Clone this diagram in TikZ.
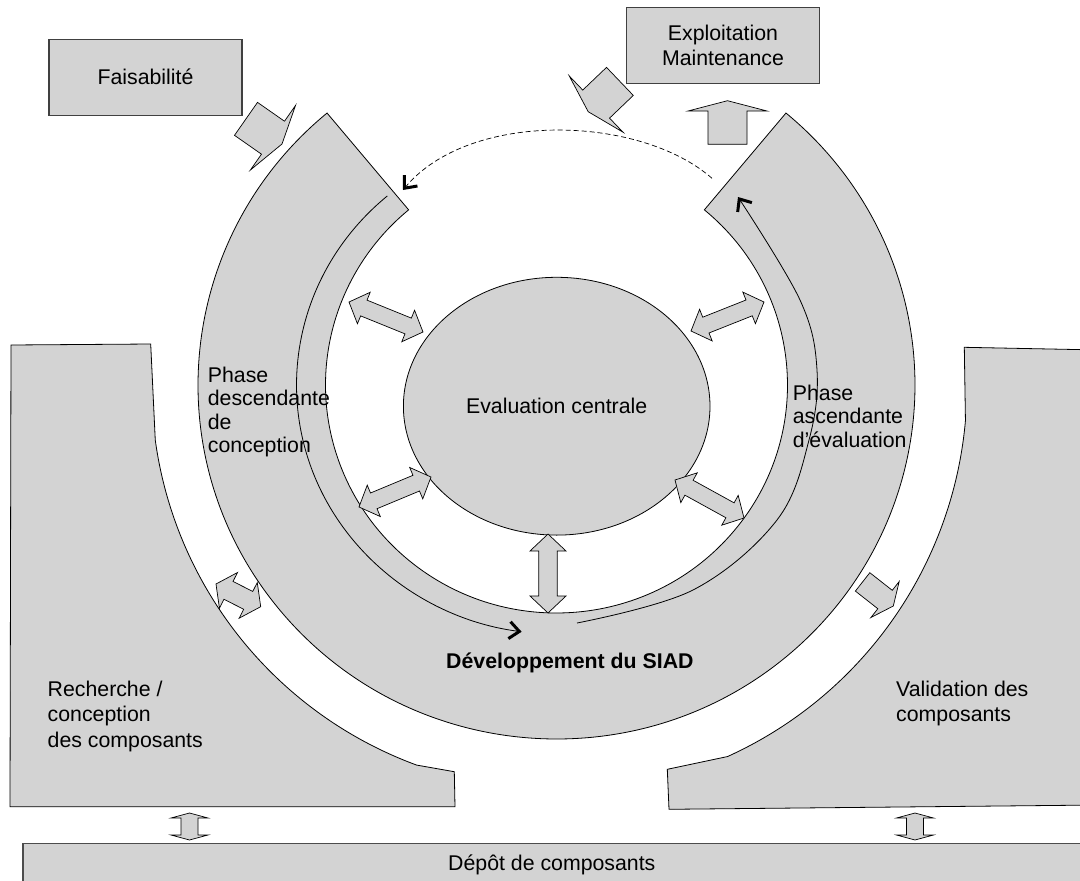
\documentclass[tikz,border=0pt]{standalone}
\usepackage{fontspec}
\setmainfont{Liberation Sans}
\usetikzlibrary{calc,shapes.geometric,arrows.meta}
\definecolor{shade}{RGB}{211,211,211}
% double block arrow: #1,#2 tips, #3 head length, #4 half head width, #5 half body width
\newcommand{\dblarr}[5]{%
 \draw[blockarrow] (#1)
  -- ($(#1)!#3!(#2)!#4!90:(#2)$)
  -- ($(#1)!#3!(#2)!#5!90:(#2)$)
  -- ($(#2)!#3!(#1)!#5!-90:(#1)$)
  -- ($(#2)!#3!(#1)!#4!-90:(#1)$)
  -- (#2)
  -- ($(#2)!#3!(#1)!#4!90:(#1)$)
  -- ($(#2)!#3!(#1)!#5!90:(#1)$)
  -- ($(#1)!#3!(#2)!#5!-90:(#2)$)
  -- ($(#1)!#3!(#2)!#4!-90:(#2)$)
  -- cycle;}
% single block arrow: #1 back middle, #2 tip
\newcommand{\sglarr}[5]{%
 \draw[blockarrow] ($(#1)!#5!90:(#2)$)
  -- ($(#2)!#3!(#1)!#5!-90:(#1)$)
  -- ($(#2)!#3!(#1)!#4!-90:(#1)$)
  -- (#2)
  -- ($(#2)!#3!(#1)!#4!90:(#1)$)
  -- ($(#2)!#3!(#1)!#5!90:(#1)$)
  -- ($(#1)!#5!-90:(#2)$)
  -- cycle;}
\begin{document}
\begin{tikzpicture}[x=1pt,y=-1pt,
  shapefill/.style={fill=shade,draw=black,line width=0.8pt},
  boxnode/.style={draw=black!75,fill=shade,line width=1.3pt,minimum width=193pt,
     minimum height=76pt,inner sep=0pt,align=center,font=\fontsize{21.3}{25.7}\selectfont},
  lbl/.style={inner sep=0pt,align=left,font=\fontsize{21.3}{25.7}\selectfont},
  phaselbl/.style={inner sep=0pt,align=left,font=\fontsize{21.3}{23.5}\selectfont},
  blockarrow/.style={fill=shade,draw=black,line width=0.7pt,line join=miter},
  guide/.style={draw=black,line width=0.8pt},
  chev/.style={-{Straight Barb[length=10pt,width=17pt,line width=3pt]}}
]
\useasboundingbox (0,0) rectangle (1080,881);
\clip (0,0) rectangle (1080,881);

% centres
\coordinate (rc) at (556.5,385);
\coordinate (pc) at (559,385);

% bottom bar
\draw[fill=shade,draw=black!70,line width=1.3pt] (23,843.3) rectangle (1100,900);
\node[lbl,anchor=base west] (depot) at (448,870) {Dépôt de composants};

% left panel
\draw[shapefill] (11,345) -- (150.7,344) -- ($(rc)+(172.2:405)$)
  arc[start angle=172.2, end angle=110.2, radius=405]
  -- (454.3,771.7) -- (455,806.7) -- (10,806.7) -- cycle;
% right panel
\draw[shapefill] (964.3,347.3) -- ($(pc)+(5:408)$)
  arc[start angle=5, end angle=65.6, radius=408]
  -- (667.3,769.3) -- (669,809.3) -- (1100,805) -- (1100,350) -- cycle;

% ring
\draw[shapefill] ($(rc)+(230.2:358.5 and 354)$)
  arc[start angle=230.2, end angle=-50.2, x radius=358.5, y radius=354]
  -- ($(rc)+(-50.2:231 and 228)$)
  arc[start angle=-50.2, end angle=230.2, x radius=231, y radius=228] -- cycle;

% guide curves inside ring
\draw[guide,chev] ($(rc)+(229.4:260 and 249)$)
  arc[start angle=229.4, end angle=97.7, x radius=260, y radius=249];
\draw[guide,chev] plot[smooth,tension=0.6] coordinates
  {(577,623) (693,590) (777,520) (809,440) (817,370) (800,300) (738,197)};

% dashed return arrow
\coordinate (dS) at (712,178.3);
\coordinate (dE) at (403,190);
\draw[guide,line width=0.7pt,dash pattern=on 5pt off 3pt,chev] (dS) .. controls (640,115) and (470,110) .. (dE);

% boxes
\node[boxnode] (fais) at (145.5,77.2) {Faisabilité};
\node[boxnode] (expl) at (723,45.3) {Exploitation\\Maintenance};

% central ellipse
\node[ellipse,draw=black,fill=shade,line width=0.8pt,minimum width=306.6pt,
  minimum height=257.8pt,inner sep=0pt,font=\fontsize{21.3}{25.7}\selectfont]
  (evalc) at (556.7,406.2) {Evaluation centrale};

% single block arrows
\coordinate (faB) at (246,118.85);  \coordinate (faT) at (282,144);
\sglarr{faB}{faT}{11pt}{39.4pt}{20.1pt}
\coordinate (exB) at (619.9,81.4);  \coordinate (exT) at (588.2,111.7);
\sglarr{exB}{exT}{11pt}{38.9pt}{19.4pt}
\coordinate (upB) at (727.5,144.3); \coordinate (upT) at (727.5,100.7);
\sglarr{upB}{upT}{10.3pt}{39.5pt}{19.5pt}
\coordinate (rvB) at (862.6,581.9); \coordinate (rvT) at (893.3,606);
\sglarr{rvB}{rvT}{10.5pt}{22.9pt}{11.7pt}

% double block arrows
\coordinate (ulA) at (349,302); \coordinate (ulB) at (423,332);
\dblarr{ulA}{ulB}{16pt}{17pt}{8.5pt}
\coordinate (urA) at (691,331); \coordinate (urB) at (764,302);
\dblarr{urA}{urB}{16pt}{17pt}{8.5pt}
\coordinate (llA) at (359,507); \coordinate (llB) at (431,477);
\dblarr{llA}{llB}{16pt}{17pt}{8.5pt}
\coordinate (lrA) at (675,480); \coordinate (lrB) at (744,518);
\dblarr{lrA}{lrB}{16pt}{17pt}{8.5pt}
\coordinate (vA) at (548,534); \coordinate (vB) at (548,613);
\dblarr{vA}{vB}{17pt}{18pt}{9.2pt}
\coordinate (lpA) at (216,584); \coordinate (lpB) at (260.7,606.7);
\dblarr{lpA}{lpB}{14pt}{20pt}{10pt}
\coordinate (ibA) at (189.5,813); \coordinate (ibB) at (189.5,840);
\dblarr{ibA}{ibB}{5pt}{18.5pt}{8.5pt}
\coordinate (icA) at (915,813); \coordinate (icB) at (915,840);
\dblarr{icA}{icB}{5pt}{18.5pt}{8.5pt}

% labels (base anchor = baseline of last line)
\node[phaselbl,anchor=base west] (phdesc) at (207.7,452.5) {Phase\\descendante\\de\\conception};
\node[phaselbl,anchor=base west] (phasc) at (792.7,447) {Phase\\ascendante\\d’évaluation};
\node[lbl,anchor=base west,font=\fontsize{21.3}{25.7}\selectfont\bfseries] (dev) at (446,668.3) {Développement du SIAD};
\node[lbl,anchor=base west] (rech) at (47.5,747.4) {Recherche /\\conception\\des composants};
\node[lbl,anchor=base west] (valid) at (896,721.7) {Validation des\\composants};
\end{tikzpicture}
\end{document}
